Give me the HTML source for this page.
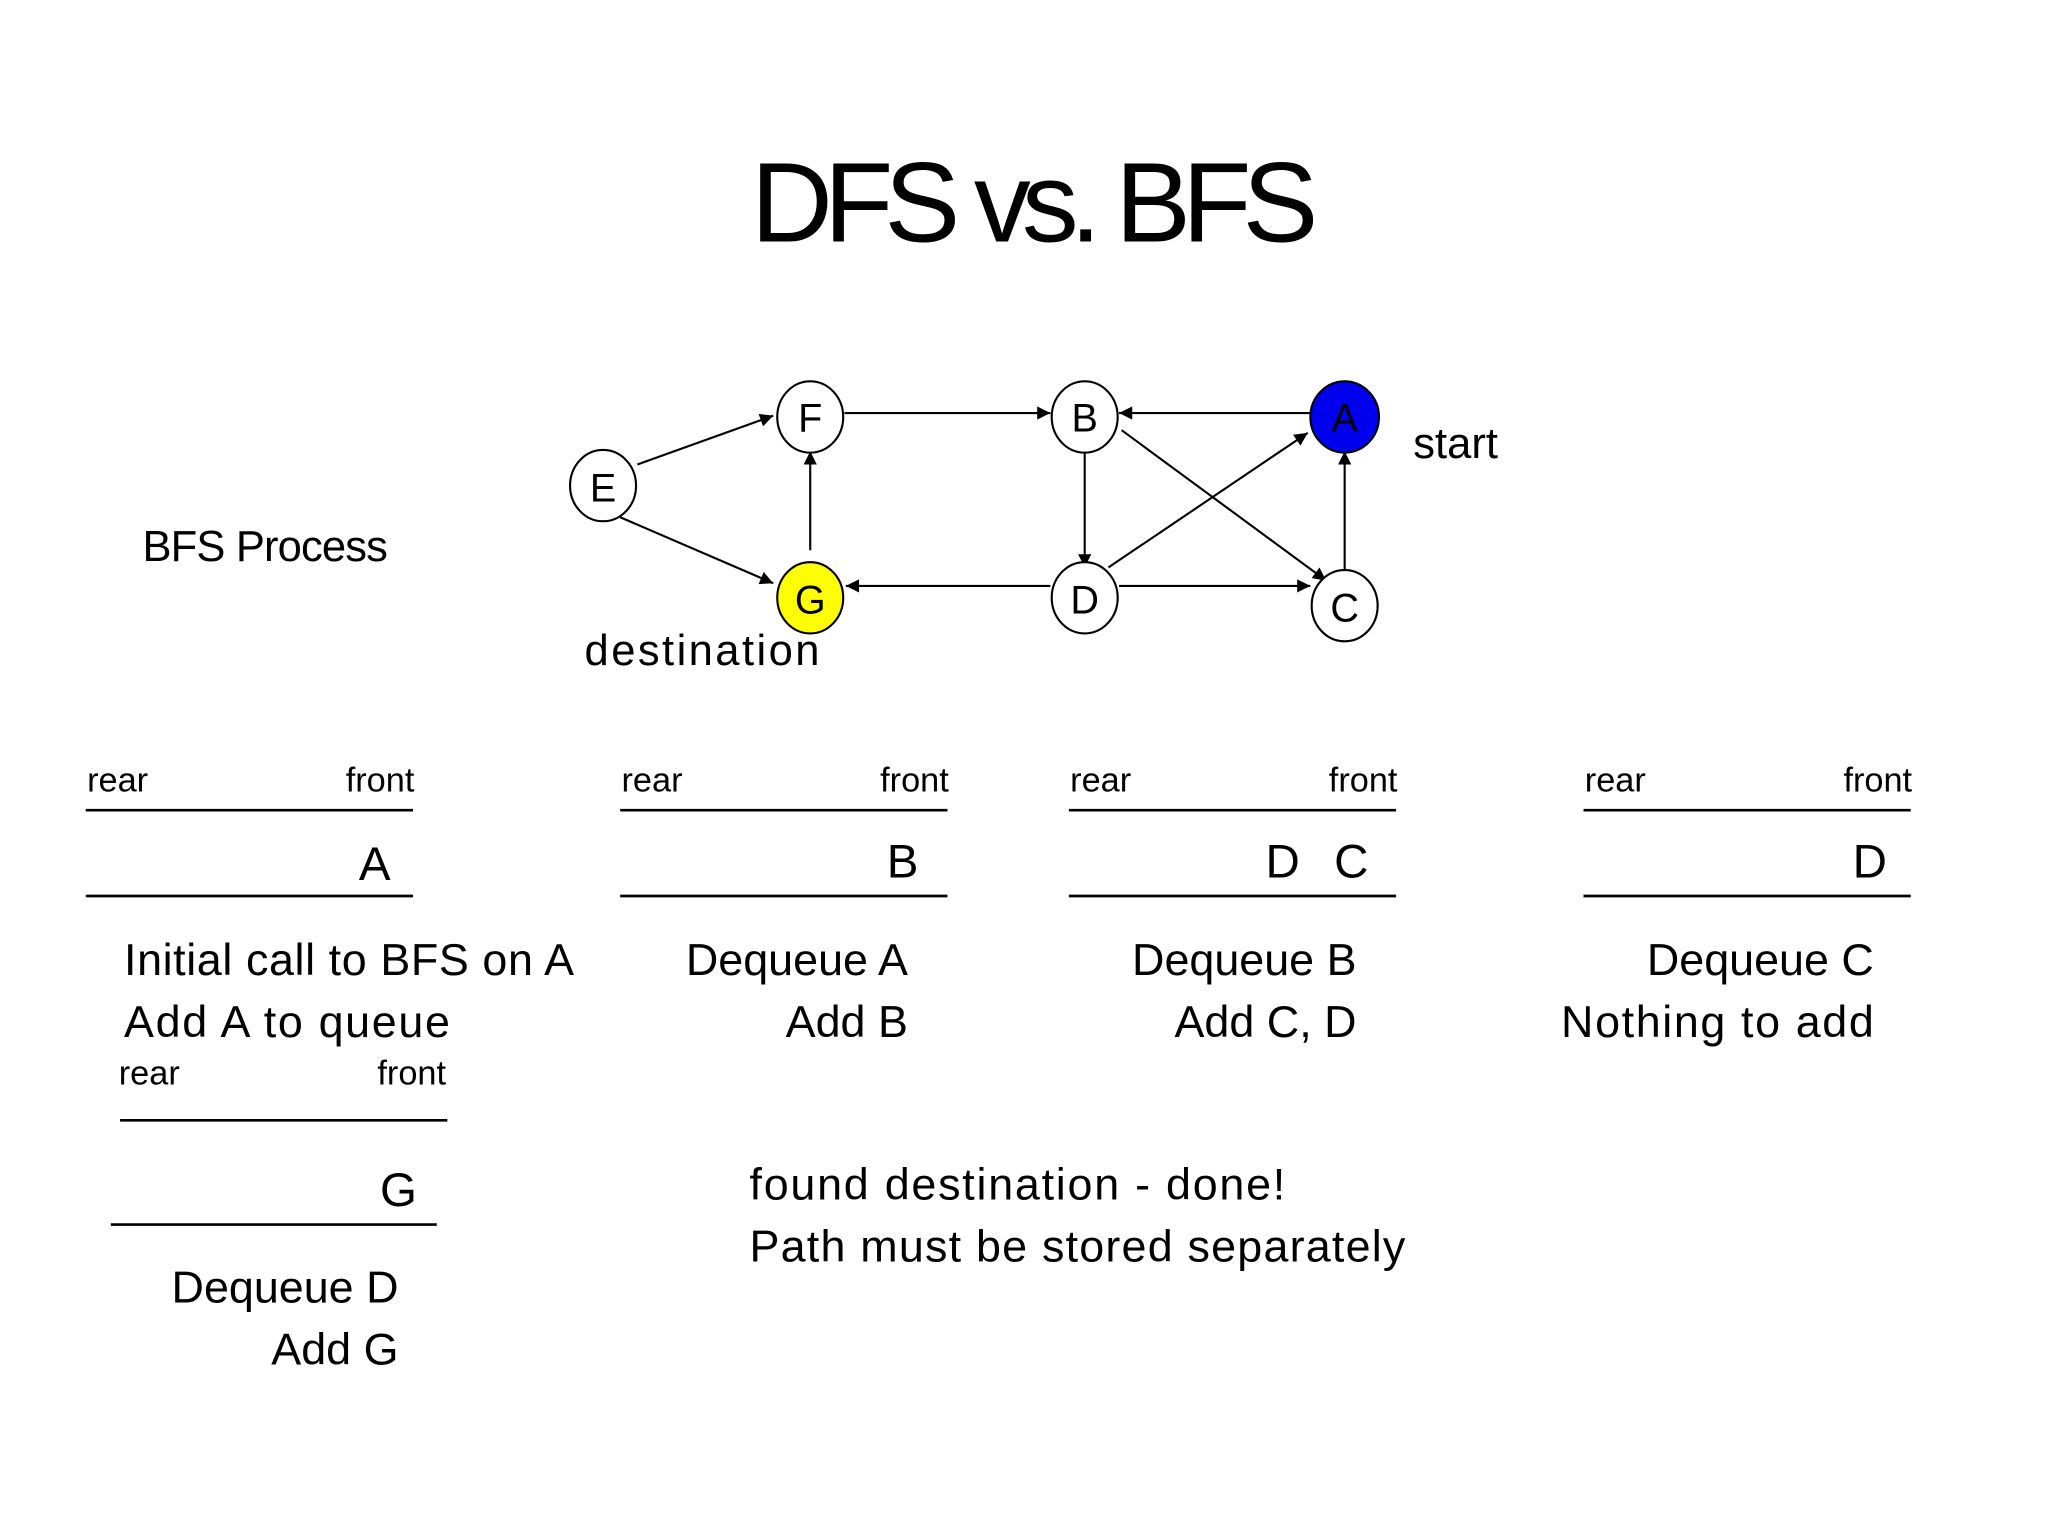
<!DOCTYPE html>
<html><head><style>html,body{margin:0;padding:0;background:#fff}svg{display:block}</style></head>
<body>
<svg width="2048" height="1536" viewBox="0 0 1552 1164" xmlns="http://www.w3.org/2000/svg" font-family="Liberation Sans, sans-serif">
<defs><marker id="ar" viewBox="0 0 10 10" refX="10" refY="5" markerWidth="12" markerHeight="10" markerUnits="userSpaceOnUse" orient="auto"><path d="M0,0L10,5L0,10z" fill="#000"/></marker></defs>
<text x="784" y="183" font-size="86" text-anchor="middle" textLength="430">DFS vs. BFS</text>
<g stroke="#000" stroke-width="1.6" marker-end="url(#ar)">
<line x1="483" y1="352" x2="586" y2="315"/>
<line x1="470" y1="392" x2="586" y2="442"/>
<line x1="614" y1="417" x2="614" y2="342"/>
<line x1="640" y1="313" x2="796" y2="313"/>
<line x1="993" y1="313" x2="848" y2="313"/>
<line x1="822" y1="342" x2="822" y2="430"/>
<line x1="850" y1="326" x2="1005" y2="440"/>
<line x1="840" y1="430" x2="991" y2="328"/>
<line x1="796" y1="444" x2="641" y2="444"/>
<line x1="848" y1="444" x2="993" y2="444"/>
<line x1="1019" y1="432" x2="1019" y2="342"/>
</g>
<g stroke="#000" stroke-width="1.6">
<ellipse cx="614" cy="316" rx="25" ry="27" fill="#fff"/>
<ellipse cx="822" cy="316" rx="25" ry="27" fill="#fff"/>
<ellipse cx="1019" cy="316" rx="26" ry="27" fill="#0000ee"/>
<ellipse cx="457" cy="368" rx="25" ry="27" fill="#fff"/>
<ellipse cx="614" cy="453" rx="25" ry="27" fill="#ffff00"/>
<ellipse cx="822" cy="453" rx="25" ry="27" fill="#fff"/>
<ellipse cx="1019" cy="459" rx="25" ry="27" fill="#fff"/>
</g>
<g font-size="30" text-anchor="middle">
<text x="614" y="327">F</text><text x="822" y="327">B</text><text x="1019" y="327">A</text>
<text x="457" y="380">E</text><text x="614" y="465">G</text><text x="822" y="465">D</text><text x="1019" y="471">C</text>
</g>
<g font-size="33">
<text x="1071" y="347">start</text>
<text x="443" y="504" textLength="178">destination</text>
<text x="108" y="425" textLength="186">BFS Process</text>
</g>
<g font-size="26">
<text x="66" y="600">rear</text><text x="262" y="600">front</text>
<text x="471" y="600">rear</text><text x="667" y="600">front</text>
<text x="811" y="600">rear</text><text x="1007" y="600">front</text>
<text x="1201" y="600">rear</text><text x="1397" y="600">front</text>
<text x="90" y="822">rear</text><text x="286" y="822">front</text>
</g>
<g stroke="#000" stroke-width="2">
<line x1="65" y1="614" x2="313" y2="614"/><line x1="65" y1="679" x2="313" y2="679"/>
<line x1="470" y1="614" x2="718" y2="614"/><line x1="470" y1="679" x2="718" y2="679"/>
<line x1="810" y1="614" x2="1058" y2="614"/><line x1="810" y1="679" x2="1058" y2="679"/>
<line x1="1200" y1="614" x2="1448" y2="614"/><line x1="1200" y1="679" x2="1448" y2="679"/>
<line x1="91" y1="849" x2="339" y2="849"/><line x1="84" y1="928" x2="331" y2="928"/>
</g>
<g font-size="36">
<text x="272" y="667">A</text><text x="672" y="665">B</text>
<text x="959" y="665">D</text><text x="1011" y="665">C</text>
<text x="1404" y="665">D</text><text x="288" y="914">G</text>
</g>
<g font-size="34">
<text x="94" y="739" textLength="341">Initial call to BFS on A</text>
<text x="94" y="786" textLength="247">Add A to queue</text>
<text x="688" y="739" text-anchor="end">Dequeue A</text>
<text x="688" y="786" text-anchor="end">Add B</text>
<text x="1028" y="739" text-anchor="end">Dequeue B</text>
<text x="1028" y="786" text-anchor="end">Add C, D</text>
<text x="1420" y="739" text-anchor="end">Dequeue C</text>
<text x="1183" y="786" textLength="237">Nothing to add</text>
<text x="302" y="987" text-anchor="end">Dequeue D</text>
<text x="302" y="1034" text-anchor="end">Add G</text>
<text x="568" y="909" textLength="406">found destination - done!</text>
<text x="568" y="956" textLength="497">Path must be stored separately</text>
</g>
</svg>
</body></html>
